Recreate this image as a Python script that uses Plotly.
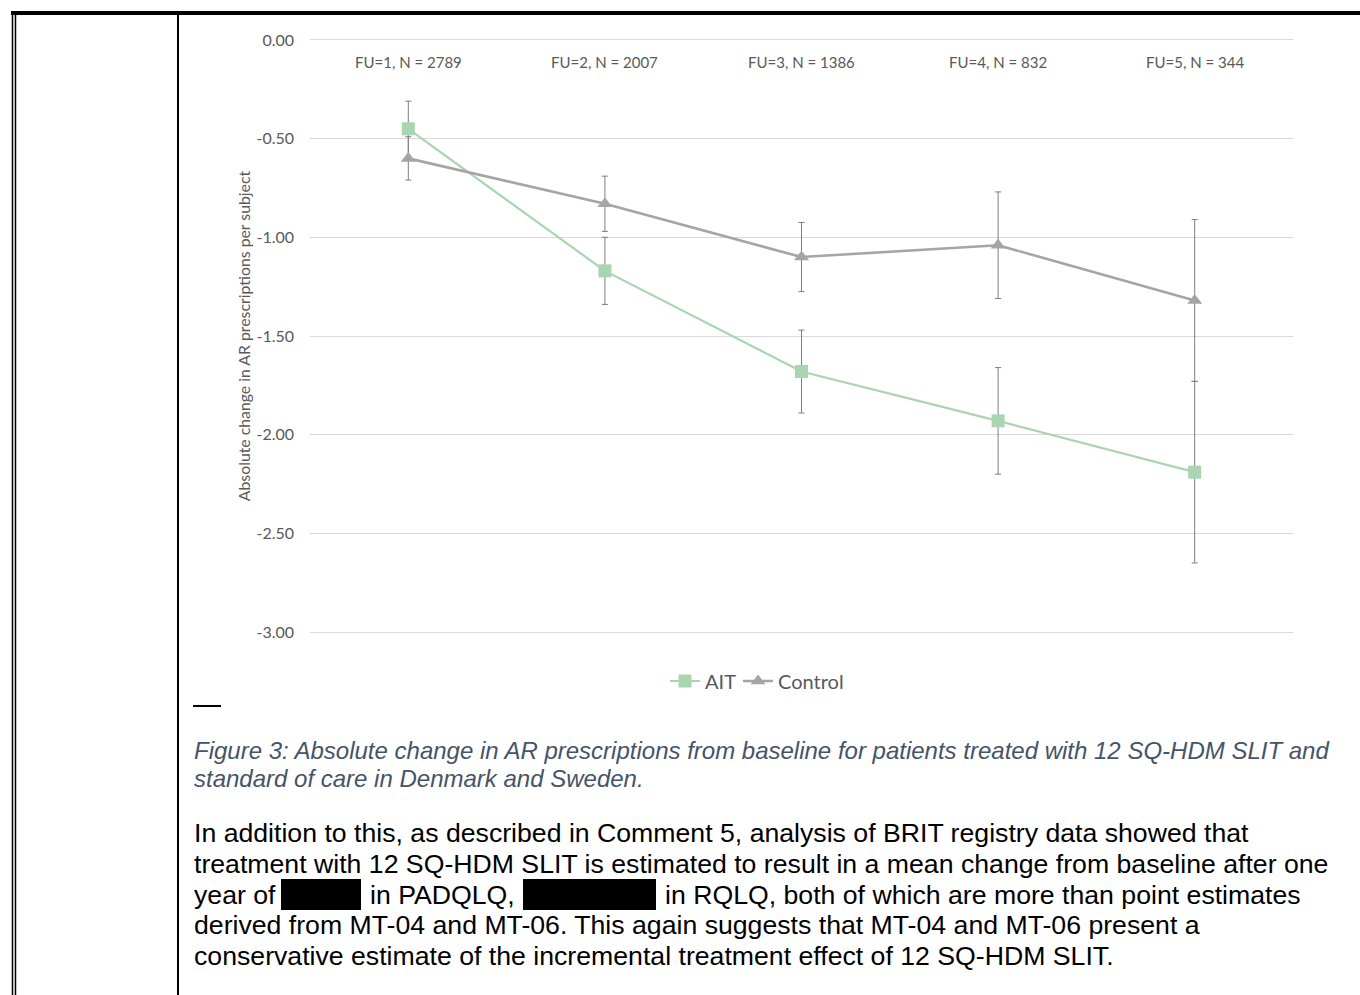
import plotly.graph_objects as go

W, H = 1360, 995

categories = ["FU=1, N = 2789", "FU=2, N = 2007", "FU=3, N = 1386", "FU=4, N = 832", "FU=5, N = 344"]
ait_values = [-0.45, -1.17, -1.68, -1.93, -2.19]
ait_err = [0.14, 0.17, 0.21, 0.27, 0.46]
control_values = [-0.60, -0.83, -1.10, -1.04, -1.32]
control_err = [0.11, 0.14, 0.175, 0.27, 0.41]
y_ticks = [0.0, -0.5, -1.0, -1.5, -2.0, -2.5, -3.0]
y_ticklabels = ["0.00", "-0.50", "-1.00", "-1.50", "-2.00", "-2.50", "-3.00"]

caption_lines = [
    "Figure 3: Absolute change in AR prescriptions from baseline for patients treated with 12 SQ-HDM SLIT and",
    "standard of care in Denmark and Sweden.",
]
body_lines = [
    "In addition to this, as described in Comment 5, analysis of BRIT registry data showed that",
    "treatment with 12 SQ-HDM SLIT is estimated to result in a mean change from baseline after one",
    None,
    "derived from MT-04 and MT-06. This again suggests that MT-04 and MT-06 present a",
    "conservative estimate of the incremental treatment effect of 12 SQ-HDM SLIT.",
]
redacted_line_parts = ["year of", "in PADQLQ,", "in RQLQ, both of which are more than point estimates"]


def px(x):
    return x / W


def py(y):
    return 1 - y / H


CHART_FONT = "Lato, 'Open Sans', sans-serif"
TEXT_FONT = "'Liberation Sans', Arial, sans-serif"
GREEN = "#A9D5B1"
GRAY = "#A5A5A5"
ERR = "#7F7F7F"
LABEL = "#595959"

fig = go.Figure()
fig.add_trace(go.Scatter(
    x=categories, y=ait_values, name="AIT", mode="lines+markers",
    line=dict(color=GREEN, width=2.2),
    marker=dict(symbol="square", size=13, color=GREEN),
    error_y=dict(type="data", array=ait_err, visible=True, color=ERR, thickness=1, width=3),
    legend="legend",
))
fig.add_trace(go.Scatter(
    x=categories, y=control_values, name="Control", mode="lines+markers",
    line=dict(color=GRAY, width=2.6),
    marker=dict(symbol="triangle-up", size=13, color=GRAY),
    error_y=dict(type="data", array=control_err, visible=True, color=ERR, thickness=1, width=3),
    legend="legend2",
))

shapes = [
    dict(type="line", xref="paper", yref="paper", x0=px(11), x1=px(1360), y0=py(13), y1=py(13),
         line=dict(color="black", width=4)),
    dict(type="line", xref="paper", yref="paper", x0=px(12.5), x1=px(12.5), y0=py(11), y1=py(995),
         line=dict(color="black", width=1.5)),
    dict(type="line", xref="paper", yref="paper", x0=px(15.5), x1=px(15.5), y0=py(11), y1=py(995),
         line=dict(color="black", width=1.5)),
    dict(type="line", xref="paper", yref="paper", x0=px(178), x1=px(178), y0=py(11), y1=py(995),
         line=dict(color="black", width=2)),
    dict(type="line", xref="paper", yref="paper", x0=px(193), x1=px(221), y0=py(706), y1=py(706),
         line=dict(color="black", width=2)),
    dict(type="rect", xref="paper", yref="paper", x0=px(281), x1=px(361), y0=py(879), y1=py(910),
         fillcolor="black", line=dict(width=0)),
    dict(type="rect", xref="paper", yref="paper", x0=px(523), x1=px(656), y0=py(879), y1=py(910),
         fillcolor="black", line=dict(width=0)),
]

annotations = []
for cat in categories:
    annotations.append(dict(text=cat, xref="x", yref="paper", x=cat, y=py(62),
                            xanchor="center", yanchor="middle", showarrow=False,
                            font=dict(family=CHART_FONT, size=15, color=LABEL)))
cap_y = [750, 778]
for line, yy in zip(caption_lines, cap_y):
    annotations.append(dict(text="<i>" + line + "</i>", xref="paper", yref="paper", x=px(192), y=py(yy),
                            xanchor="left", yanchor="middle", showarrow=False,
                            font=dict(family=TEXT_FONT, size=24, color="#44546A")))
body_y = [833, 864, 895, 925, 956]
for line, yy in zip(body_lines, body_y):
    if line is None:
        continue
    annotations.append(dict(text=line, xref="paper", yref="paper", x=px(192), y=py(yy),
                            xanchor="left", yanchor="middle", showarrow=False,
                            font=dict(family=TEXT_FONT, size=26.67, color="black")))
for part, xx in zip(redacted_line_parts, [192, 368, 663]):
    annotations.append(dict(text=part, xref="paper", yref="paper", x=px(xx), y=py(895),
                            xanchor="left", yanchor="middle", showarrow=False,
                            font=dict(family=TEXT_FONT, size=26.67, color="black")))

legend_common = dict(orientation="h", yanchor="middle", xanchor="left",
                     font=dict(family=CHART_FONT, size=20, color=LABEL),
                     itemwidth=30, tracegroupgap=0, bgcolor="rgba(0,0,0,0)")

fig.update_layout(
    width=W, height=H, autosize=False,
    margin=dict(l=0, r=0, t=0, b=0, pad=0),
    paper_bgcolor="white", plot_bgcolor="white",
    font=dict(family=CHART_FONT, color=LABEL),
    showlegend=True,
    legend=dict(x=px(665), y=py(681), **legend_common),
    legend2=dict(x=px(738), y=py(681), **legend_common),
    xaxis=dict(domain=[px(310), px(1293)], type="category", range=[-0.5, 4.5],
               showticklabels=False, ticks="", showgrid=False, showline=False,
               zeroline=False, automargin=False),
    yaxis=dict(domain=[py(634), py(38)], range=[-3.01, 0.01], tickvals=y_ticks, ticktext=y_ticklabels,
               showgrid=True, gridcolor="#D9D9D9", gridwidth=1, zeroline=False,
               showline=False, ticks="", ticklabelstandoff=15, automargin=False,
               tickfont=dict(family=CHART_FONT, size=16, color=LABEL),
               title=dict(text="Absolute change in AR prescriptions per subject", standoff=1,
                          font=dict(family=CHART_FONT, size=15.8, color=LABEL))),
    shapes=shapes,
    annotations=annotations,
)

fig.write_html("out.html", config={"displayModeBar": False},
               post_script="document.body.style.margin='0';document.body.style.overflow='hidden';")
